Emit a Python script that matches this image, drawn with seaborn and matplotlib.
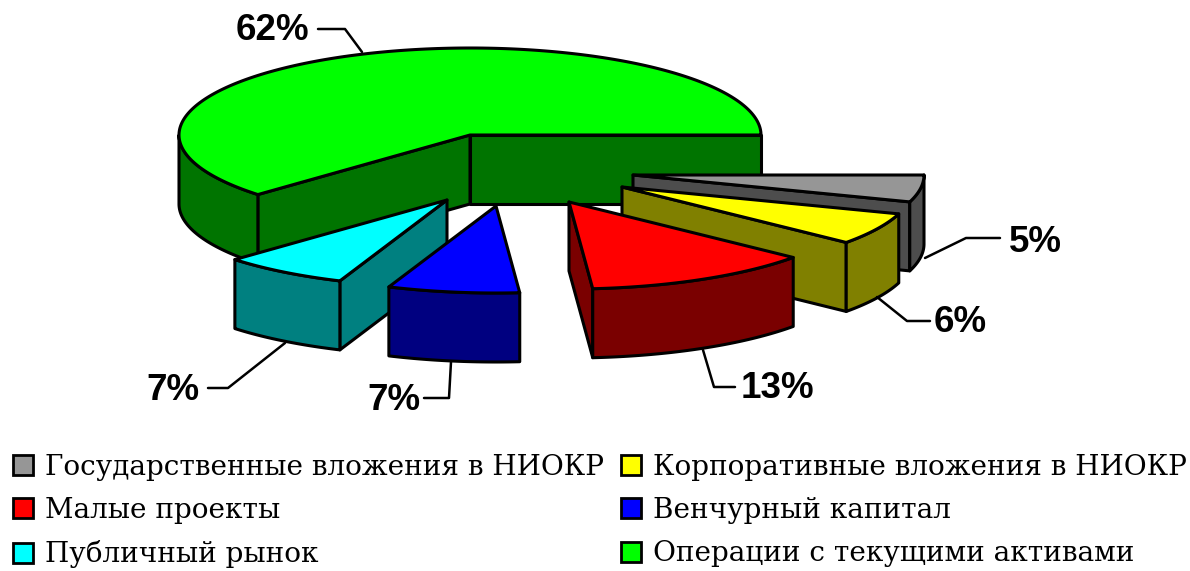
import numpy as np
import matplotlib
matplotlib.use("Agg")
import matplotlib.pyplot as plt
from matplotlib.patches import Polygon, Patch
import seaborn as sns

labels = ["Государственные вложения в НИОКР", "Корпоративные вложения в НИОКР",
          "Малые проекты", "Венчурный капитал",
          "Публичный рынок", "Операции с текущими активами"]
values = [5.0, 6.0, 12.7, 7.3, 7.0, 62.0]
top_colors = ["#969696", "#ffff00", "#ff0000", "#0000ff", "#00ffff", "#00ff00"]
side_colors = ["#4d4d4d", "#808000", "#7a0000", "#000080", "#008080", "#007400"]

# where each slice's apex ends up after the explosion, in pixels
apex = [(633, 175), (622, 187), (569, 202), (496, 206), (447, 200), (470, 135)]
# label text position and leader line for each slice
label_pos = [(1035, 242), (960, 323), (777, 389), (394, 400), (173, 391), (272, 30)]
leaders = [[(1000, 238), (966, 238), (925, 258)],
           [(930, 321), (907, 321), (877, 297)],
           [(735, 387), (714, 387), (703, 350)],
           [(424, 398), (449, 398), (451, 362)],
           [(208, 388), (228, 388), (285, 343)],
           [(318, 29), (345, 29), (362, 52)]]

RX, RY, DEPTH = 291, 87, 69

sns.set_theme(style="white")
plt.rcParams["font.family"] = ["Liberation Sans", "DejaVu Sans"]

fig = plt.figure(figsize=(11.9, 5.71), dpi=100)
ax = fig.add_axes([0, 0, 1, 1])
ax.set_xlim(0, 1190)
ax.set_ylim(571, 0)
ax.axis("off")

# slices run clockwise from the east, the big green one is ccw from 0
angles = {}
end = 360.0
for i, v in enumerate(values[:-1]):
    start = end - v * 3.6
    angles[i] = (start, end)
    end = start
angles[5] = (0.0, values[5] * 3.6)


def rim(cx, cy, t):
    t = np.radians(t)
    return np.column_stack([cx + RX * np.cos(t), cy - RY * np.sin(t)])


def face(pts, color):
    ax.add_patch(Polygon(pts, closed=True, facecolor=color, edgecolor="black",
                         linewidth=2.2, joinstyle="round"))


def draw_slice(i):
    cx, cy = apex[i]
    a, b = angles[i]
    shift = np.array([0, DEPTH])
    centre = np.array([[cx, cy]])
    # cut faces, only the ones turned to the viewer
    if np.cos(np.radians(a)) > 0:
        p = rim(cx, cy, np.array([a]))
        face(np.vstack([centre, p, p + shift, centre + shift]), side_colors[i])
    if np.cos(np.radians(b)) < 0:
        p = rim(cx, cy, np.array([b]))
        face(np.vstack([centre, p, p + shift, centre + shift]), side_colors[i])
    # outer wall, front half of the ellipse only
    lo = max(a, 180.0)
    if b > lo:
        arc = rim(cx, cy, np.linspace(lo, b, 60))
        face(np.vstack([arc, arc[::-1] + shift]), side_colors[i])
    arc = rim(cx, cy, np.linspace(a, b, 200))
    face(np.vstack([centre, arc]), top_colors[i])


for i in [5, 0, 1, 2, 4, 3]:
    draw_slice(i)

for i, v in enumerate(values):
    xs, ys = zip(*leaders[i])
    ax.plot(xs, ys, color="black", lw=1.8, solid_joinstyle="round")
    ax.text(label_pos[i][0], label_pos[i][1], f"{v:.0f}%", ha="center", va="center",
            fontsize=26.5, fontweight="bold", color="black")

# legend is filled by column, the picture reads by row
handles = [Patch(facecolor=c, edgecolor="black", linewidth=2.0, label=l)
           for c, l in zip(top_colors, labels)]
order = [0, 2, 4, 1, 3, 5]
ax.legend([handles[i] for i in order], [labels[i] for i in order], ncol=2,
          loc="upper left", bbox_to_anchor=(13, 454), bbox_transform=ax.transData,
          frameon=False, borderpad=0, borderaxespad=0,
          handlelength=0.72, handleheight=0.72, handletextpad=0.42,
          columnspacing=0.62, labelspacing=0.58, labelcolor="black",
          prop={"family": "DejaVu Serif", "size": 20.1})

fig.savefig("out.png", dpi=100)
